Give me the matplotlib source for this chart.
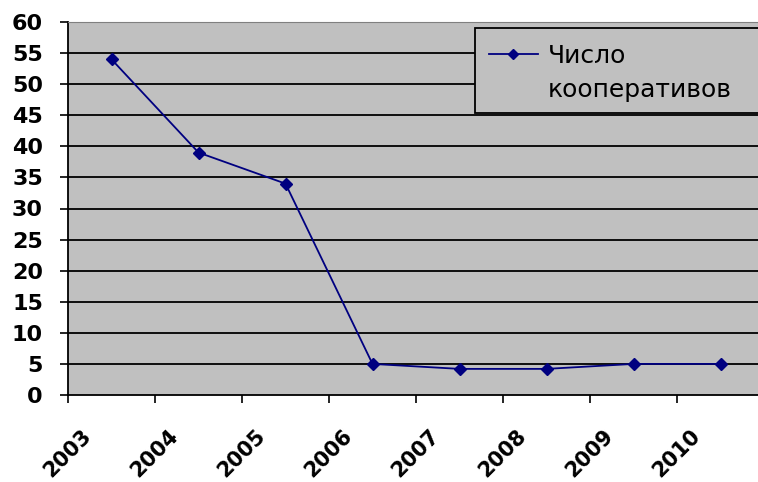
import numpy as np
import matplotlib
matplotlib.use("Agg")
from matplotlib import pyplot as plt
from matplotlib.patches import Rectangle

years = ["2003", "2004", "2005", "2006", "2007", "2008", "2009", "2010"]
coops = [54, 39, 34, 5, 4.2, 4.2, 5, 5]
y_ticks = list(range(0, 61, 5))
series_name = ["Число", "кооперативов"]

NAVY = "#000080"
GRAY = "#C0C0C0"

plt.rcParams['font.family'] = ['DejaVu Sans']

fig = plt.figure(figsize=(7.58, 4.82), dpi=100)
ax = fig.add_axes([68 / 758, 87 / 482, 690 / 758, 373 / 482])
ax.set_facecolor(GRAY)

# categories sit between the tick marks, like an Excel category axis
xpos = np.arange(len(years)) + 0.5
ax.plot(xpos, coops, color=NAVY, lw=1.3, marker="D", ms=6, mfc=NAVY, mec=NAVY,
        label=series_name[0], zorder=3)

ax.set_xlim(0, 690 / 87)
ax.set_ylim(0, 60)
ax.set_yticks(y_ticks)
ax.set_yticklabels([str(v) for v in y_ticks], fontsize=16, fontweight="bold")
ax.set_xticks(np.arange(len(years)))
ax.set_xticklabels(years, rotation=45, fontsize=15, fontweight="bold")
ax.tick_params(axis="y", length=6, width=1.2, pad=12)
ax.tick_params(axis="x", length=6, width=1.2, pad=16)

for v in y_ticks[1:-1]:
    ax.axhline(v, color="black", lw=1.3, zorder=1)

ax.spines["top"].set_color("#808080")
ax.spines["right"].set_visible(False)
ax.spines["left"].set_linewidth(1.3)
ax.spines["bottom"].set_linewidth(1.3)

# legend box (Excel style, runs off the right edge)
box = Rectangle((475 / 758, 1 - 113 / 482), 300 / 758, 85 / 482,
                transform=fig.transFigure, facecolor=GRAY,
                edgecolor="black", lw=1.3, zorder=5, clip_on=False)
ax.add_patch(box)
leg = ax.legend(loc="upper left", bbox_to_anchor=(489 / 758, 1 - 44 / 482),
                bbox_transform=fig.transFigure, frameon=False, fontsize=18,
                borderpad=0, borderaxespad=0,
                handlelength=1.95, handletextpad=0.4, markerscale=0.8)
leg.set_zorder(6)
# second line of the series name, handle stays level with the first line
fig.text(548 / 758, 1 - 97 / 482, series_name[1], fontsize=18,
         va="baseline", ha="left", zorder=7)

fig.savefig("out.png", dpi=100)
